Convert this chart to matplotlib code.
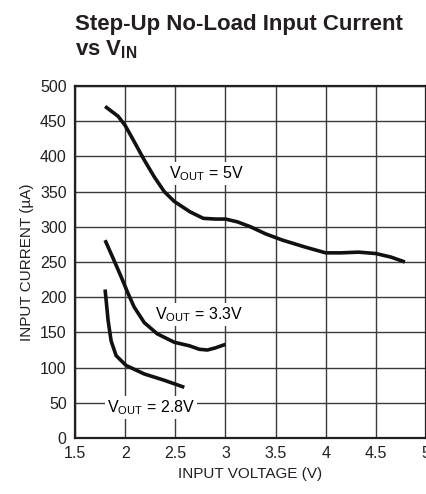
import matplotlib
matplotlib.use("Agg")
import matplotlib.pyplot as plt

plt.rcParams['font.family'] = ['Liberation Sans Narrow', 'Liberation Sans', 'DejaVu Sans']

# V_OUT = 5V
vin_5 = [1.8, 1.93, 2.0, 2.09, 2.19, 2.29, 2.39, 2.49, 2.65, 2.78, 2.9, 3.0, 3.12, 3.25, 3.4, 3.57, 3.8, 4.0, 4.15, 4.33, 4.5, 4.65, 4.79]
iin_5 = [471, 457, 444, 421, 395, 371, 350, 336, 321, 312, 311, 311, 307, 300, 290, 281, 271, 263, 263, 264, 262, 257, 250]
# V_OUT = 3.3V
vin_33 = [1.8, 1.89, 1.96, 2.03, 2.09, 2.19, 2.32, 2.49, 2.64, 2.74, 2.82, 2.9, 3.0]
iin_33 = [281, 252, 229, 205, 186, 164, 148, 136, 131, 126, 125, 128, 133]
# V_OUT = 2.8V
vin_28 = [1.8, 1.83, 1.86, 1.91, 2.01, 2.19, 2.39, 2.59]
iin_28 = [211, 167, 138, 117, 103, 91, 82, 72]

xticks = [1.5, 2, 2.5, 3, 3.5, 4, 4.5, 5]
xlabels = ['1.5', '2', '2.5', '3', '3.5', '4', '4.5', '5']
yticks = [0, 50, 100, 150, 200, 250, 300, 350, 400, 450, 500]

fig = plt.figure(figsize=(4.27, 4.94), dpi=100)
ax = fig.add_axes([75/427, 1-438/494, 351/427, 352/494])

for x, y in [(vin_5, iin_5), (vin_33, iin_33), (vin_28, iin_28)]:
    ax.plot(x, y, color='#111111', lw=2.6, solid_capstyle='butt', solid_joinstyle='round', zorder=3)

ax.set_xlim(1.5, 5)
ax.set_ylim(0, 500)
ax.set_xticks(xticks)
ax.set_xticklabels(xlabels)
ax.set_yticks(yticks)
ax.tick_params(length=0, labelsize=11.5, pad=6, colors='#231f20')
ax.grid(True, color='#3a3a3a', lw=1.0)
ax.set_axisbelow(True)
for s in ax.spines.values():
    s.set_linewidth(1.6)
    s.set_color('#231f20')

ax.set_xlabel('INPUT VOLTAGE (V)', fontsize=11, color='#231f20', labelpad=4)
ax.set_ylabel('INPUT CURRENT (µA)', fontsize=11, color='#231f20', labelpad=4)

box = dict(facecolor='white', edgecolor='none', pad=1.5)
ax.text(2.44, 376, r'V$_{\mathregular{OUT}}$ = 5V', fontsize=11.5, va='center', ha='left', bbox=box, zorder=4)
ax.text(2.30, 175, r'V$_{\mathregular{OUT}}$ = 3.3V', fontsize=11.5, va='center', ha='left', bbox=box, zorder=4)
ax.text(1.82, 43, r'V$_{\mathregular{OUT}}$ = 2.8V', fontsize=11.5, va='center', ha='left', bbox=box, zorder=4)

fig.text(75/427, 1-30/494, 'Step-Up No-Load Input Current', fontsize=16, fontweight='bold', color='#231f20', va='baseline')
fig.text(75/427, 1-55/494, r'vs V$_{\mathregular{IN}}$', fontsize=16, fontweight='bold', color='#231f20', va='baseline')

fig.savefig('out.png', dpi=100)
